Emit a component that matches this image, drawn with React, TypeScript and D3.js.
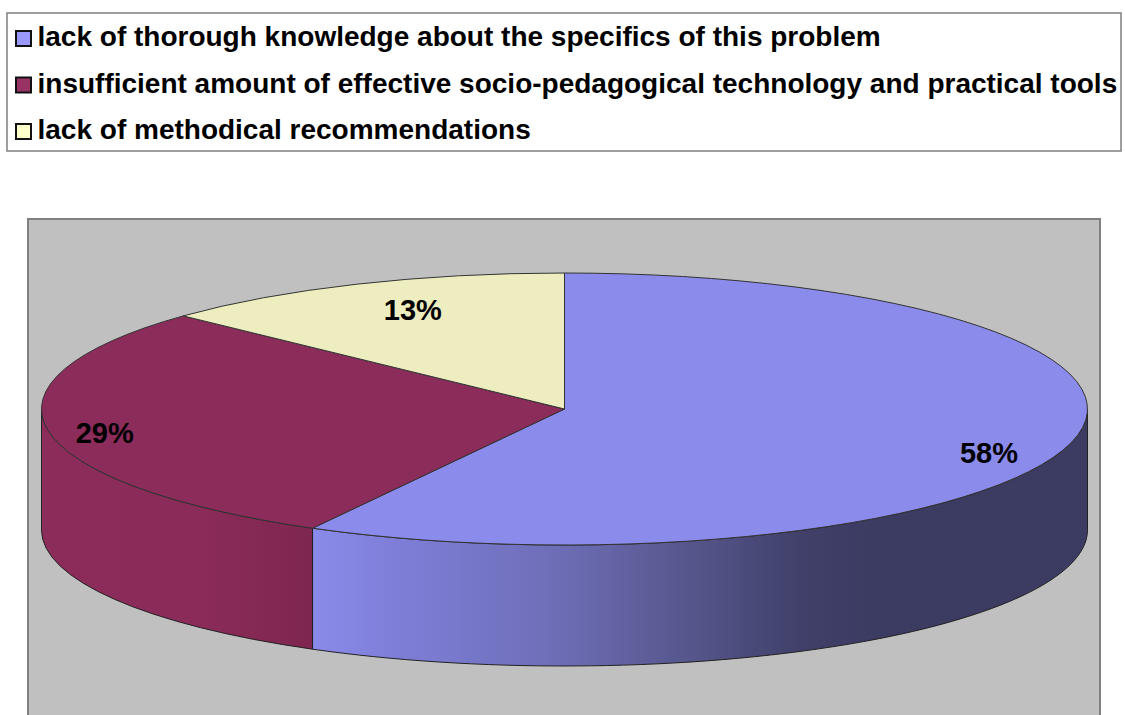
import React from "react";
import * as d3 from "d3";

const categories = [
  "lack of thorough knowledge about the specifics of this problem",
  "insufficient amount of effective socio-pedagogical technology and practical tools",
  "lack of methodical recommendations",
];
const values = [58, 29, 13];
const percentLabels = ["58%", "29%", "13%"];

const topColors = ["#8B8BEB", "#8B2C5B", "#EDEDC0"];
const legendColors = ["#9999FF", "#993366", "#FFFFCC"];
const sideStops: [number, string][][] = [
  [
    [0, "#8A8AEA"],
    [0.11, "#7E7ED8"],
    [0.31, "#6E6EB8"],
    [0.5, "#545489"],
    [0.63, "#40406A"],
    [0.72, "#3C3B62"],
    [1, "#3C3B62"],
  ],
  [
    [0, "#8B2C5B"],
    [0.6, "#8A2B59"],
    [1, "#7E264F"],
  ],
  [
    [0, "#EDEDC0"],
    [1, "#B0B090"],
  ],
];
// label placement tweaks (radius factor, dx, dy)
const labelPlace: [number, number, number][] = [
  [0.84, -1, 16],
  [0.89, 0, 5],
  [0.73, 0, -8],
];

export default function App() {
  const W = 1125;
  const H = 715;
  const cx = 564.5;
  const cy = 409;
  const rx = 523;
  const ry = 136;
  const depth = 121;

  const pie = d3
    .pie<number>()
    .sort(null)
    .value((d) => d)
    .startAngle(0)
    .endAngle(2 * Math.PI);
  const arcs = pie(values);

  const px = (a: number) => cx + rx * Math.sin(a);
  const py = (a: number) => cy - ry * Math.cos(a);

  const topPath = (a0: number, a1: number) => {
    const large = a1 - a0 > Math.PI ? 1 : 0;
    return `M${cx},${cy}L${px(a0)},${py(a0)}A${rx},${ry} 0 ${large} 1 ${px(a1)},${py(a1)}Z`;
  };
  const sidePath = (a0: number, a1: number) => {
    const s0 = Math.max(a0, Math.PI / 2);
    const s1 = Math.min(a1, (3 * Math.PI) / 2);
    if (s1 <= s0) return null;
    const large = s1 - s0 > Math.PI ? 1 : 0;
    return (
      `M${px(s0)},${py(s0)}A${rx},${ry} 0 ${large} 1 ${px(s1)},${py(s1)}` +
      `L${px(s1)},${py(s1) + depth}A${rx},${ry} 0 ${large} 0 ${px(s0)},${py(s0) + depth}Z`
    );
  };
  const sideBounds = (a0: number, a1: number) => {
    const s0 = Math.max(a0, Math.PI / 2);
    const s1 = Math.min(a1, (3 * Math.PI) / 2);
    const xs = d3.range(0, 101).map((i) => px(s0 + ((s1 - s0) * i) / 100));
    return [d3.min(xs) as number, d3.max(xs) as number];
  };

  const font = "'Liberation Sans', Arial, Helvetica, sans-serif";

  return (
    <svg
      width={W}
      height={H}
      style={{ position: "absolute", left: 0, top: 0, background: "#fff" }}
    >
      <defs>
        {arcs.map((a, i) => {
          const b = sideBounds(a.startAngle, a.endAngle);
          return (
            <linearGradient
              key={i}
              id={`side${i}`}
              gradientUnits="userSpaceOnUse"
              x1={b[0]}
              x2={b[1]}
              y1={0}
              y2={0}
            >
              {sideStops[i].map(([o, c], j) => (
                <stop key={j} offset={o} stopColor={c} />
              ))}
            </linearGradient>
          );
        })}
      </defs>

      {/* Legend */}
      <rect x={7} y={13} width={1114} height={138} fill="#fff" stroke="#7f7f7f" strokeWidth={1.5} />
      {categories.map((c, i) => (
        <g key={i}>
          <rect
            x={16}
            y={31 + i * 46.5}
            width={15}
            height={15}
            fill={legendColors[i]}
            stroke="#111"
            strokeWidth={2}
          />
          <text
            x={37.5}
            y={46 + i * 46.5}
            fontFamily={font}
            fontWeight="bold"
            fontSize={28}
            fill="#000"
          >
            {c}
          </text>
        </g>
      ))}

      {/* Plot area */}
      <rect x={28} y={219} width={1072} height={520} fill="#C0C0C0" stroke="#808080" strokeWidth={2} />

      {/* Sides */}
      {arcs.map((a, i) => {
        const d = sidePath(a.startAngle, a.endAngle);
        return d ? (
          <path key={`s${i}`} d={d} fill={`url(#side${i})`} stroke="#222" strokeWidth={1} strokeLinejoin="round" />
        ) : null;
      })}

      {/* Tops */}
      {arcs.map((a, i) => (
        <path
          key={`t${i}`}
          d={topPath(a.startAngle, a.endAngle)}
          fill={topColors[i]}
          stroke="#333"
          strokeWidth={1}
          strokeLinejoin="round"
        />
      ))}

      {/* Labels */}
      {arcs.map((a, i) => {
        const mid = (a.startAngle + a.endAngle) / 2;
        const [k, dx, dy] = labelPlace[i];
        const x = cx + rx * k * Math.sin(mid) + dx;
        const y = cy - ry * k * Math.cos(mid) + dy;
        return (
          <text
            key={`l${i}`}
            x={x}
            y={y}
            textAnchor="middle"
            dominantBaseline="central"
            fontFamily={font}
            fontWeight="bold"
            fontSize={29}
            fill="#000"
          >
            {percentLabels[i]}
          </text>
        );
      })}
    </svg>
  );
}
